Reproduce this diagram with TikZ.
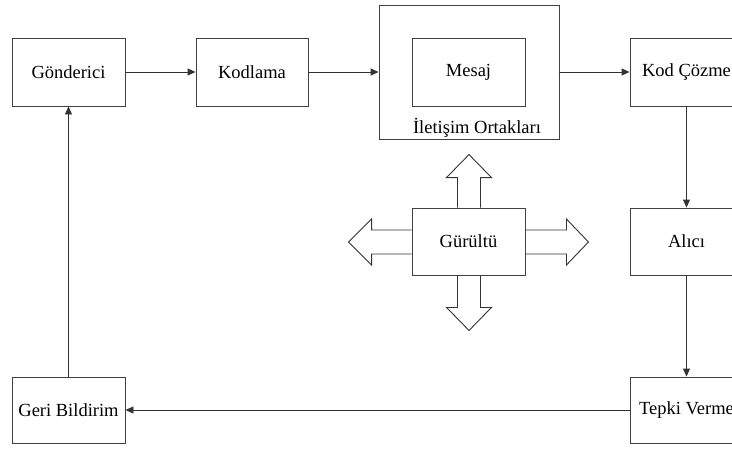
\documentclass[tikz,border=0pt]{standalone}
\usepackage{fontspec}
\setmainfont{Liberation Serif}
\newfontfamily\diagfont{Liberation Serif}
\usetikzlibrary{arrows.meta}
\begin{document}
\begin{tikzpicture}[x=1pt,y=-1pt,
  box/.style={draw=black!75, line width=0.9pt, inner sep=0pt, minimum width=113pt, minimum height=68pt, font=\diagfont\fontsize{18.5}{22}\selectfont},
  conn/.style={draw=black!80, line width=0.9pt, -{Triangle[length=8pt,width=7pt]}},
  blockarrow/.style={draw=black!80, line width=0.9pt, line join=miter}]
\clip (0,0) rectangle (732,448);
\fill[white] (0,0) rectangle (732,448);
% nodes
\node[box] (gon) at (68.5,72) {Gönderici};
\node[box, minimum width=112pt] (kod) at (252,72) {Kodlama};
\node[box, minimum width=180pt, minimum height=134pt] (ilet) at (469,72) {};
\node[box] (mesaj) at (468.5,72) {Mesaj};
\node[font=\diagfont\fontsize{18.5}{22}\selectfont, inner sep=0pt] (iletlab) at (477,128) {İletişim Ortakları};
\node[box] (coz) at (686.5,72) {Kod Çözme};
\node[box, minimum height=67pt] (alici) at (686.5,241.5) {Alıcı};
\node[box, minimum height=66pt] (tepki) at (686.5,410) {Tepki Verme};
\node[box, minimum height=66pt] (geri) at (68.5,410) {Geri Bildirim};
\node[box, minimum height=67pt] (gur) at (468.5,241.5) {Gürültü};
% connectors
\draw[conn] (gon.east) -- (kod.west);
\draw[conn] (kod.east) -- (ilet.west);
\draw[conn] (ilet.east) -- (coz.west);
\draw[conn] (coz.south) -- (alici.north);
\draw[conn] (alici.south) -- (tepki.north);
\draw[conn] (tepki.west) -- (geri.east);
\draw[conn] (geri.north) -- (gon.south);
% block arrows around Gürültü
\draw[blockarrow] (gur.north) ++(-11,0) -- ++(0,-30) -- ++(-11,0) -- ++(22.5,-23) -- ++(22.5,23) -- ++(-11,0) -- ++(0,30);
\draw[blockarrow] (gur.south) ++(-11,0) -- ++(0,32) -- ++(-11,0) -- ++(22.5,23) -- ++(22.5,-23) -- ++(-11,0) -- ++(0,-32);
\draw[blockarrow] (gur.west) ++(0,-11.5) -- ++(-40,0) -- ++(0,-11) -- ++(-23,23) -- ++(23,23) -- ++(0,-11) -- ++(40,0);
\draw[blockarrow] (gur.east) ++(0,-11.5) -- ++(41,0) -- ++(0,-11) -- ++(22,23) -- ++(-22,23) -- ++(0,-11) -- ++(-41,0);
\end{tikzpicture}
\end{document}
